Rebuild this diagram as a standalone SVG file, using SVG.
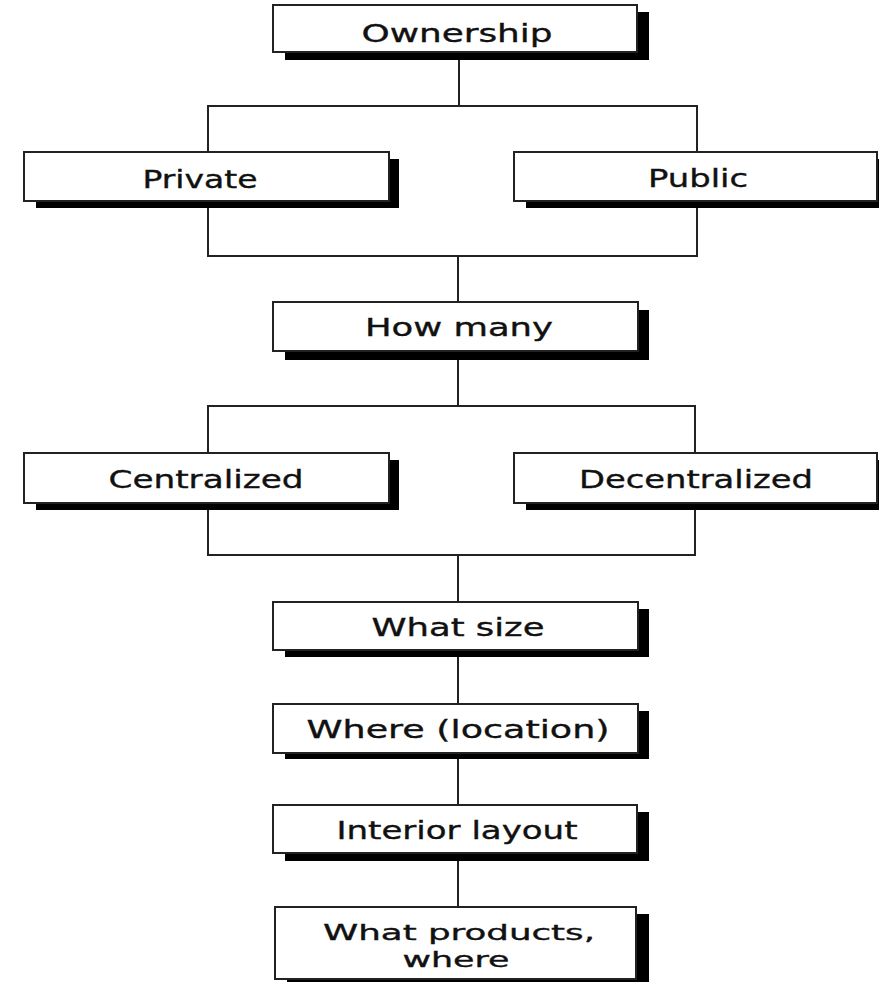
<svg xmlns="http://www.w3.org/2000/svg" width="879" height="982" viewBox="0 0 879 982">
<style>
.bg{fill:#ffffff}
.ln{fill:none;stroke:#222;stroke-width:2}
.sh{fill:#000}
.bx{fill:#fff;stroke:#222;stroke-width:2}
.tx{font-family:"DejaVu Sans","Liberation Sans",sans-serif;font-size:24px;fill:#111;stroke:#111;stroke-width:0.35;text-anchor:middle}
.sm{font-size:21px}
</style>
<rect class="bg" x="0" y="0" width="879" height="982"/>
<g id="connectors">
<line class="ln" x1="459" y1="52" x2="459" y2="106"/>
<rect class="ln" x="208" y="106" width="489" height="150"/>
<line class="ln" x1="458" y1="256" x2="458" y2="302"/>
<line class="ln" x1="458" y1="351" x2="458" y2="406"/>
<rect class="ln" x="208" y="406" width="487" height="149"/>
<line class="ln" x1="458" y1="555" x2="458" y2="907"/>
</g>
<g id="n-ownership">
<rect class="sh" x="285" y="12" width="364" height="48"/>
<rect class="bx" x="273" y="5" width="364" height="47"/>
<text class="tx" x="457" y="42" textLength="191" lengthAdjust="spacingAndGlyphs">Ownership</text>
</g>
<g id="n-private">
<rect class="sh" x="36" y="159" width="363" height="49"/>
<rect class="bx" x="24" y="152" width="365" height="49"/>
<text class="tx" x="200" y="188" textLength="115" lengthAdjust="spacingAndGlyphs">Private</text>
</g>
<g id="n-public">
<rect class="sh" x="526" y="159" width="363" height="49"/>
<rect class="bx" x="514" y="152" width="363" height="49"/>
<text class="tx" x="698" y="187" textLength="100" lengthAdjust="spacingAndGlyphs">Public</text>
</g>
<g id="n-howmany">
<rect class="sh" x="285" y="310" width="364" height="50"/>
<rect class="bx" x="273" y="302" width="365" height="49"/>
<text class="tx" x="459" y="336" textLength="188" lengthAdjust="spacingAndGlyphs">How many</text>
</g>
<g id="n-centralized">
<rect class="sh" x="36" y="460" width="363" height="50"/>
<rect class="bx" x="24" y="453" width="365" height="50"/>
<text class="tx" x="206" y="488" textLength="195" lengthAdjust="spacingAndGlyphs">Centralized</text>
</g>
<g id="n-decentralized">
<rect class="sh" x="526" y="460" width="363" height="50"/>
<rect class="bx" x="514" y="453" width="363" height="50"/>
<text class="tx" x="696" y="488" textLength="234" lengthAdjust="spacingAndGlyphs">Decentralized</text>
</g>
<g id="n-whatsize">
<rect class="sh" x="285" y="609" width="364" height="48"/>
<rect class="bx" x="273" y="602" width="365" height="48"/>
<text class="tx" x="458" y="636" textLength="173" lengthAdjust="spacingAndGlyphs">What size</text>
</g>
<g id="n-where">
<rect class="sh" x="285" y="711" width="364" height="48"/>
<rect class="bx" x="273" y="704" width="365" height="49"/>
<text class="tx" x="458" y="738" textLength="303" lengthAdjust="spacingAndGlyphs">Where (location)</text>
</g>
<g id="n-interior">
<rect class="sh" x="285" y="812" width="364" height="49"/>
<rect class="bx" x="273" y="805" width="364" height="48"/>
<text class="tx" x="457" y="839" textLength="241" lengthAdjust="spacingAndGlyphs">Interior layout</text>
</g>
<g id="n-products">
<rect class="sh" x="287" y="914" width="362" height="80"/>
<rect class="bx" x="275" y="907" width="361" height="72"/>
<text class="tx sm" x="459" y="940" textLength="272" lengthAdjust="spacingAndGlyphs">What products,</text>
<text class="tx sm" x="456" y="967" textLength="107" lengthAdjust="spacingAndGlyphs">where</text>
</g>
</svg>
